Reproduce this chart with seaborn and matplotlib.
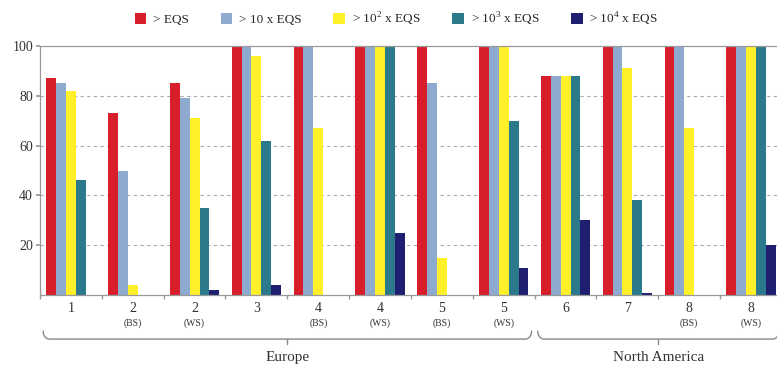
import numpy as np
import pandas as pd
import matplotlib
matplotlib.use("Agg")
import matplotlib.pyplot as plt
import seaborn as sns

# sites along x (number + sub label)
sites = ["1", "2", "2", "3", "4", "4", "5", "5", "6", "7", "8", "8"]
subs = ["", "(BS)", "(WS)", "", "(BS)", "(WS)", "(BS)", "(WS)", "", "", "(BS)", "(WS)"]
levels = ["> EQS", "> 10 x EQS", r"> 10$^2$ x EQS", r"> 10$^3$ x EQS", r"> 10$^4$ x EQS"]

# % of samples above each threshold
eqs_1 = [87, 73, 85, 100, 100, 100, 100, 100, 88, 100, 100, 100]
eqs_10 = [85, 50, 79, 100, 100, 100, 85, 100, 88, 100, 100, 100]
eqs_100 = [82, 4, 71, 96, 67, 100, 15, 100, 88, 91, 67, 100]
eqs_1000 = [46, 0, 35, 62, 0, 100, 0, 70, 88, 38, 0, 100]
eqs_10000 = [0, 0, 2, 4, 0, 25, 0, 11, 30, 1, 0, 20]

regions = ["Europe", "North America"]
region_span = [(0, 7), (8, 11)]

colors = ["#d81e2a", "#8eabcf", "#fff02a", "#2b7a8c", "#1e1f70"]

keys = [f"{s} {b}".strip() for s, b in zip(sites, subs)]
df = pd.DataFrame({
    "site": keys * 5,
    "level": np.repeat(levels, len(keys)),
    "value": eqs_1 + eqs_10 + eqs_100 + eqs_1000 + eqs_10000,
})

sns.set_theme(style="white")
plt.rcParams["font.family"] = ["Liberation Serif", "DejaVu Serif"]
plt.rcParams["mathtext.fontset"] = "custom"
plt.rcParams["mathtext.rm"] = "Liberation Serif"

fig = plt.figure(figsize=(7.77, 3.67), dpi=100)
ax = fig.add_axes([40 / 777, 72 / 367, 742 / 777, 249 / 367])

sns.barplot(data=df, x="site", y="value", hue="level", order=keys, hue_order=levels,
            palette=colors, width=0.8, gap=0, saturation=1, linewidth=0, ax=ax)

handles, labels = ax.get_legend_handles_labels()
ax.legend_.remove()
fig.legend(handles, labels, loc="center", bbox_to_anchor=(0.51, 0.948), ncol=5,
           frameon=False, fontsize=9.5, handlelength=0.9, handleheight=0.9,
           handletextpad=0.5, columnspacing=2.4)

ax.set_xlim(-0.5, len(keys) - 0.5)
ax.set_ylim(0, 100)
ax.set_yticks([20, 40, 60, 80, 100])
ax.set_yticklabels(["20", "40", "60", "80", "100"], fontsize=10, color="#333333")
ax.set_xlabel("")
ax.set_ylabel("")
ax.set_xticks([])
ax.set_xticks(np.arange(len(keys) + 1) - 0.5, minor=True)
ax.tick_params(axis="x", which="minor", length=3, color="#999999", direction="out", bottom=True)
ax.tick_params(axis="y", length=3, color="#999999", left=True, pad=2)

for y in [20, 40, 60, 80]:
    ax.axhline(y, color="#aaaaaa", lw=0.8, ls=(0, (3, 3)), zorder=0)

for side in ["left", "bottom", "top"]:
    ax.spines[side].set_color("#999999")
    ax.spines[side].set_linewidth(0.9)
ax.spines["right"].set_visible(False)

trans = ax.get_xaxis_transform()
for i, (s, b) in enumerate(zip(sites, subs)):
    ax.text(i, -0.055, s, transform=trans, ha="center", va="center", fontsize=10, color="#333333")
    if b:
        ax.text(i, -0.112, b, transform=trans, ha="center", va="center", fontsize=7, color="#333333")


def bracket(x0, x1, label):
    ytop, ybot, r = -0.145, -0.177, 0.1
    t = np.linspace(0, np.pi / 2, 10)
    left_x = x0 + r - r * np.cos(t)
    left_y = ybot + (ytop - ybot) * (1 - np.sin(t))
    right_x = x1 - r + r * np.cos(t[::-1])
    right_y = ybot + (ytop - ybot) * (1 - np.sin(t[::-1]))
    xs = np.concatenate([left_x, right_x])
    ys = np.concatenate([left_y, right_y])
    ax.plot(xs, ys, transform=trans, color="#888888", lw=1, clip_on=False)
    xc = (x0 + x1) / 2
    ax.plot([xc, xc], [ybot, ybot - 0.02], transform=trans, color="#888888", lw=1, clip_on=False)
    ax.text(xc, -0.25, label, transform=trans, ha="center", va="center", fontsize=11, color="#333333")


for name, (a, b) in zip(regions, region_span):
    bracket(a - 0.45, b + 0.45, name)

fig.savefig("out.png", dpi=100)
